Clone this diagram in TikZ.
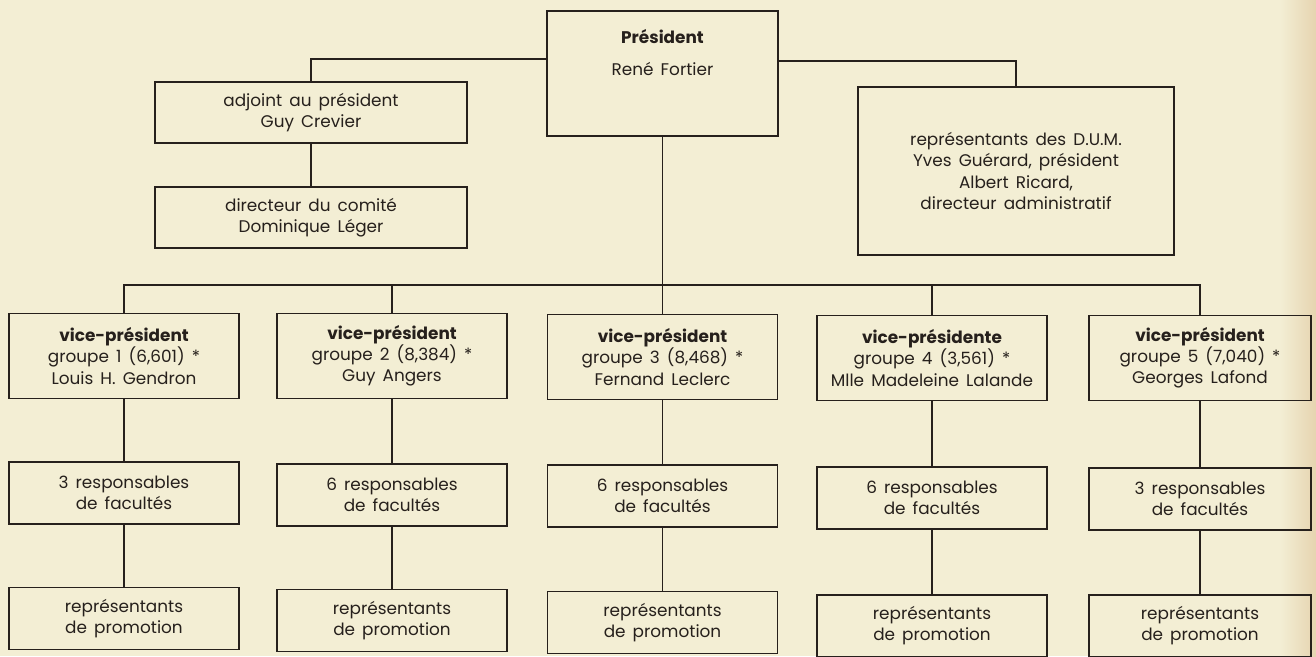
\documentclass[tikz,border=0pt]{standalone}
\usepackage{fontspec}
\setmainfont{Poppins}
\usepackage{tikz}
\usetikzlibrary{positioning}

\definecolor{paper}{RGB}{243,238,212}
\definecolor{paperedge}{RGB}{230,212,176}
\definecolor{ink}{RGB}{38,32,28}
\newcommand{\orgfont}{\fontsize{9.6}{12}\selectfont\spaceskip=0.42em plus 0.1em\relax}

\tikzset{
  orgbox/.style={draw=ink,line width=1pt,align=center,text=ink,inner sep=2pt,
    font={\orgfont}},
  vpbox/.style={orgbox,minimum width=4.6cm,minimum height=1.7cm},
  rowbox/.style={orgbox,minimum width=4.6cm,minimum height=1.24cm},
  link/.style={draw=ink,line width=1pt}
}

\begin{document}
\begin{tikzpicture}
% paper
\fill[paper] (0,0) rectangle (26.32,-13.12);
\shade[left color=paper,right color=paperedge] (25.6,0) rectangle (26.32,-13.12);
\useasboundingbox (0,0) rectangle (26.32,-13.12);

% top level
\node[orgbox,minimum width=4.62cm,minimum height=2.5cm] (pres) at (13.25,-1.47) {};
\node[orgbox,draw=none,below=0.3cm of pres.north] (prestxt) {\textbf{Président}\\[6pt]René Fortier};
\node[orgbox,minimum width=6.24cm,minimum height=1.22cm] (adj) at (6.22,-2.25) {adjoint au président\\Guy Crevier};
\node[orgbox,minimum width=6.24cm,minimum height=1.22cm] (dir) at (6.22,-4.35) {directeur du comité\\Dominique Léger};
\node[orgbox,minimum width=6.32cm,minimum height=3.36cm] (dum) at (20.32,-3.42) {représentants des D.U.M.\\Yves Guérard, président\\Albert Ricard,\\directeur administratif};
\draw[link] ([yshift=-0.98cm]pres.north west) -| (adj.north);
\draw[link] ([yshift=-1.02cm]pres.north east) -| (dum.north);
\draw[link] (adj.south) -- (dir.north);

% vice-presidents
\node[vpbox] (vp1) at (2.48,-7.12) {\textbf{vice-président}\\groupe 1 (6,601) *\\Louis H. Gendron};
\node[vpbox] (vp2) at (7.84,-7.12) {\textbf{vice-président}\\groupe 2 (8,384) *\\Guy Angers};
\node[vpbox] (vp3) at (13.25,-7.14) {\textbf{vice-président}\\groupe 3 (8,468) *\\Fernand Leclerc};
\node[vpbox] (vp4) at (18.64,-7.16) {\textbf{vice-présidente}\\groupe 4 (3,561) *\\Mlle Madeleine Lalande};
\node[vpbox,minimum width=4.44cm] (vp5) at (24.0,-7.16) {\textbf{vice-président}\\groupe 5 (7,040) *\\Georges Lafond};

\coordinate (bus) at (0,-5.70);
\draw[link] (pres.south) -- (pres.south |- bus);
\draw[link] (vp1.north) -- (vp1.north |- bus) -- (vp5.north |- bus) -- (vp5.north);
\draw[link] (vp2.north) -- (vp2.north |- bus);
\draw[link] (vp3.north) -- (vp3.north |- bus);
\draw[link] (vp4.north) -- (vp4.north |- bus);

% responsables
\node[rowbox] (r1) at (2.48,-9.86) {3 responsables\\de facultés};
\node[rowbox] (r2) at (7.84,-9.90) {6 responsables\\de facultés};
\node[rowbox] (r3) at (13.25,-9.92) {6 responsables\\de facultés};
\node[rowbox] (r4) at (18.64,-9.96) {6 responsables\\de facultés};
\node[rowbox,minimum width=4.44cm] (r5) at (24.0,-9.98) {3 responsables\\de facultés};

% representants
\node[rowbox] (p1) at (2.48,-12.37) {représentants\\de promotion};
\node[rowbox] (p2) at (7.84,-12.41) {représentants\\de promotion};
\node[rowbox] (p3) at (13.25,-12.45) {représentants\\de promotion};
\node[rowbox] (p4) at (18.64,-12.52) {représentants\\de promotion};
\node[rowbox,minimum width=4.44cm] (p5) at (24.0,-12.52) {représentants\\de promotion};

\draw[link] (vp1) -- (r1) -- (p1);
\draw[link] (vp2) -- (r2) -- (p2);
\draw[link] (vp3) -- (r3) -- (p3);
\draw[link] (vp4) -- (r4) -- (p4);
\draw[link] (vp5) -- (r5) -- (p5);
\end{tikzpicture}
\end{document}
